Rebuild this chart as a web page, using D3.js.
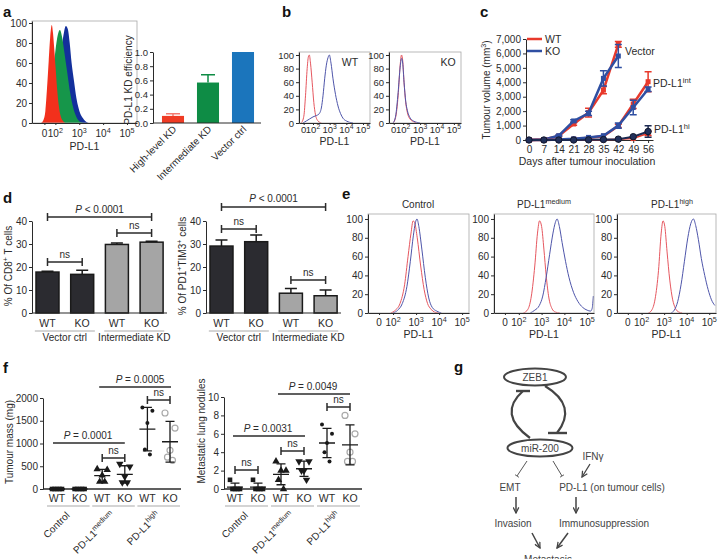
<!DOCTYPE html>
<html>
<head>
<meta charset="utf-8">
<script src="https://cdn.jsdelivr.net/npm/d3@7"></script>
<style>
  body { margin: 0; background: #fff; }
  svg { font-family: "Liberation Sans", Arial, Helvetica, sans-serif; }
</style>
</head>
<body>
<svg width="719" height="559"></svg>
<script>
// ---------- data ----------
// flow histograms: [log10 PD-L1, % of max]
const aRed   = [[1.40,0],[1.50,3],[1.58,12],[1.65,35],[1.72,62],[1.78,85],[1.85,98],[1.90,90],[1.95,75],[2.01,55],[2.07,35],[2.14,18],[2.22,7],[2.32,2],[2.42,0]];
const aGreen = [[1.45,0],[1.60,4],[1.75,20],[1.90,50],[2.00,72],[2.10,88],[2.19,93],[2.28,86],[2.38,70],[2.50,50],[2.62,30],[2.75,15],[2.90,5],[3.05,1],[3.20,0]];
const aBlue  = [[1.50,0],[1.70,3],[1.90,15],[2.05,35],[2.20,62],[2.32,85],[2.44,97],[2.52,94],[2.60,80],[2.68,60],[2.78,42],[2.88,25],[2.96,16],[3.05,9],[3.15,5],[3.25,2],[3.40,0]];

const bWTRed  = [[1.30,0],[1.45,10],[1.55,40],[1.65,80],[1.72,97],[1.78,100],[1.85,88],[1.95,60],[2.05,30],[2.15,12],[2.30,3],[2.50,0]];
const bWTBlue = [[1.40,0],[1.60,3],[1.80,6],[2.00,9],[2.20,11],[2.35,13],[2.50,22],[2.60,40],[2.70,65],[2.80,85],[2.90,96],[2.98,100],[3.08,88],[3.20,65],[3.35,42],[3.50,25],[3.65,14],[3.80,7],[4.00,3],[4.20,1],[4.40,0]];
const bKORed  = [[1.40,0],[1.55,8],[1.70,40],[1.82,85],[1.90,100],[1.97,92],[2.05,60],[2.15,30],[2.25,15],[2.40,6],[2.60,2],[2.80,0]];
const bKOBlue = [[1.40,0],[1.55,10],[1.70,45],[1.82,82],[1.90,95],[1.97,88],[2.05,60],[2.15,32],[2.25,18],[2.40,8],[2.60,3],[2.80,1],[3.00,0]];

const eCtrlRed  = [[1.90,0],[2.10,3],[2.30,10],[2.50,30],[2.65,60],[2.78,85],[2.87,98],[2.95,95],[3.05,80],[3.20,50],[3.35,25],[3.50,10],[3.65,4],[3.80,1],[4.00,0]];
const eCtrlBlue = [[2.00,0],[2.20,3],[2.40,10],[2.60,28],[2.75,55],[2.88,82],[2.97,96],[3.04,100],[3.12,92],[3.25,68],[3.40,38],[3.55,16],[3.70,6],[3.90,2],[4.10,0]];
const eMedRed   = [[2.20,0],[2.40,4],[2.55,18],[2.70,50],[2.82,85],[2.91,98],[3.00,92],[3.10,68],[3.20,40],[3.32,16],[3.45,5],[3.60,1],[3.80,0]];
const eMedBlue  = [[2.50,0],[2.70,3],[2.90,8],[3.05,18],[3.20,38],[3.35,62],[3.50,85],[3.60,96],[3.68,100],[3.78,92],[3.90,75],[4.05,55],[4.20,38],[4.40,22],[4.60,12],[4.80,6],[5.00,3],[5.15,2],[5.22,5],[5.27,18]];
const eHighRed  = [[2.30,0],[2.45,3],[2.60,15],[2.75,45],[2.87,85],[2.95,98],[3.03,92],[3.13,65],[3.25,35],[3.38,14],[3.50,5],[3.65,1],[3.80,0]];
const eHighBlue = [[3.30,0],[3.45,3],[3.60,12],[3.75,30],[3.90,55],[4.05,80],[4.18,95],[4.30,100],[4.40,93],[4.52,78],[4.65,58],[4.80,40],[4.95,25],[5.10,14],[5.25,8]];

const flowYTicks = [0, 20, 40, 60, 80, 100];
const flowDecades = [2, 3, 4, 5];

// panel a bars
const kdCats = ["High-level KD", "Intermediate KD", "Vector ctrl"];
const kdVals = [0.10, 0.57, 1.00];
const kdErr  = [0.03, 0.11, 0.00];

// panel c growth curves
const days     = [0, 7, 14, 21, 28, 35, 42, 49, 56];
const vecWT    = [0, 30, 280, 1110, 1900, 3460, 6630];
const vecWTErr = [0, 0, 40, 80, 300, 250, 200];
const vecKO    = [0, 30, 300, 1320, 1850, 4270, 5820];
const vecKOErr = [0, 0, 40, 80, 150, 530, 800];
const intWT    = [0, 0, 30, 60, 150, 260, 980, 2500, 4040];
const intWTErr = [0, 0, 0, 0, 0, 0, 120, 320, 690];
const intKO    = [0, 0, 40, 80, 180, 300, 1000, 2250, 3520];
const intKOErr = [0, 0, 0, 0, 0, 0, 180, 500, 150];
const hiWT     = [0, 0, 0, 0, 10, 20, 50, 100, 460];
const hiWTErr  = [0, 0, 0, 0, 0, 0, 0, 0, 150];
const hiKO     = [0, 0, 0, 0, 10, 30, 60, 230, 590];
const hiKOErr  = [0, 0, 0, 0, 0, 0, 0, 0, 400];

// panel d bars
const dLabels  = ["WT", "KO", "WT", "KO"];
const cd8Vals  = [17.8, 16.8, 29.8, 30.8];
const cd8Err   = [0.3, 1.8, 0.6, 0.4];
const timVals  = [29.1, 31.0, 8.6, 7.5];
const timErr   = [2.6, 2.9, 2.1, 2.5];

// panel f dot plots
const fKeys   = ["cWT", "cKO", "mWT", "mKO", "hWT", "hKO"];
const fLabels = ["WT", "KO", "WT", "KO", "WT", "KO"];
const massPts = {
  cWT: [0, 0, 0, 0, 0], cKO: [0, 0, 0, 0, 0],
  mWT: [440, 420, 300, 160, 160], mKO: [550, 490, 270, 145, 145],
  hWT: [1790, 1720, 1450, 870, 760], hKO: [1670, 1340, 850, 700, 630]
};
const nodPts = {
  cWT: [1, 0, 0, 0, 0], cKO: [1, 0, 0, 0, 0],
  mWT: [3, 2, 2, 1, 0], mKO: [3, 3, 2, 2, 1],
  hWT: [7, 6, 5, 4, 3], hKO: [8, 6, 4, 3, 3]
};

// ---------- drawing ----------
const svg = d3.select("svg");
const ink = "#2b2b2b";
const red = "#e8392b", blue = "#2f4fa2";
const flowRed = "#e6575f", flowBlue = "#4e55aa";

function txt(x, y, fs, anchor) {
  return svg.append("text").attr("x", x).attr("y", y).attr("font-size", fs)
    .attr("text-anchor", anchor || "middle").attr("fill", ink);
}
function rich(t, parts, fs) {
  let shift = 0;
  parts.forEach(p => {
    const s = t.append("tspan").text(p[0]);
    const want = p[1] === "sup" ? -fs * 0.42 : 0;
    if (want !== shift) { s.attr("dy", want - shift); shift = want; }
    if (p[1] === "sup") s.attr("font-size", fs * 0.72);
    if (p[1] === "i") s.attr("font-style", "italic");
  });
  return t;
}
function styleAxis(g, fs) {
  g.selectAll("path,line").attr("stroke", ink);
  g.selectAll("text").attr("font-size", fs || 10).attr("fill", ink).attr("font-family", null);
}
function letter(x, y, s) {
  svg.append("text").attr("x", x).attr("y", y).attr("font-size", 15)
    .attr("font-weight", "bold").attr("fill", "#111").text(s);
}
function bracket(x1, x2, y, ends) {
  let d = `M${x1},${y}H${x2}`;
  if (ends) d += `M${x1},${y - 4}V${y + 4}M${x2},${y - 4}V${y + 4}`;
  svg.append("path").attr("d", d).attr("stroke", ink).attr("stroke-width", 1.5).attr("fill", "none");
}

// flow cytometry panel
let clipN = 0;
function flow(c) {
  const fs = c.fs || 10;
  const g = svg.append("g").attr("transform", `translate(${c.left},${c.top})`);
  const x = d3.scaleLinear().domain(c.dom).range([0, c.w]);
  const y = d3.scaleLinear().domain([0, c.ymax]).range([c.h, 0]);
  const id = "clip" + (clipN++);
  g.append("clipPath").attr("id", id).append("rect").attr("width", c.w).attr("height", c.h);
  const plot = g.append("g").attr("clip-path", `url(#${id})`);
  c.curves.forEach(cv => {
    if (cv.fill) {
      plot.append("path").datum(cv.data).attr("fill", cv.color)
        .attr("d", d3.area().x(d => x(d[0])).y0(c.h).y1(d => y(d[1])).curve(d3.curveMonotoneX));
    } else {
      plot.append("path").datum(cv.data).attr("fill", "none").attr("stroke", cv.color).attr("stroke-width", 1)
        .attr("d", d3.line().x(d => x(d[0])).y(d => y(d[1])).curve(d3.curveMonotoneX));
    }
  });
  g.append("rect").attr("width", c.w).attr("height", c.h).attr("fill", "none")
    .attr("stroke", "#a8a8a8").attr("stroke-width", 0.8);
  g.append("g").call(d3.axisLeft(y).tickValues(flowYTicks).tickSize(3).tickPadding(2).tickSizeOuter(0))
    .call(a => styleAxis(a, fs));
  const tv = [c.zero, ...flowDecades];
  g.append("g").attr("transform", `translate(0,${c.h})`)
    .call(d3.axisBottom(x).tickValues(tv).tickSize(2).tickSizeOuter(0).tickFormat(""))
    .call(a => styleAxis(a));
  tv.forEach(v => {
    const t = g.append("text").attr("x", x(v)).attr("y", c.h + c.tickY).attr("font-size", fs)
      .attr("text-anchor", "middle").attr("fill", ink);
    if (v === c.zero) t.text("0"); else rich(t, [["10"], [String(v), "sup"]], fs);
  });
  g.append("text").attr("x", c.w / 2).attr("y", c.h + c.labY).attr("font-size", 10.5)
    .attr("text-anchor", "middle").attr("fill", ink).text("PD-L1");
  return g;
}

// ---- panel a
letter(3, 17, "a");
flow({ left: 32, top: 21, w: 105, h: 102, dom: [1.02, 5.42], zero: 1.54, ymax: 102, tickY: 14, labY: 27,
  curves: [{ data: aBlue, color: "#13309c", fill: true }, { data: aGreen, color: "#16964a", fill: true },
           { data: aRed, color: "#f2301c", fill: true }] });

{
  const y = d3.scaleLinear().domain([0, 1]).range([123, 52]);
  const x = d3.scaleBand().domain(kdCats).range([155.5, 260.5]).paddingInner(0.37).paddingOuter(0.185);
  const kdColors = ["#ef3b24", "#0e8c45", "#1b75bc"];
  svg.append("g").selectAll("rect").data(kdVals).join("rect")
    .attr("x", (d, i) => x(kdCats[i])).attr("y", d => y(d))
    .attr("width", x.bandwidth()).attr("height", d => y(0) - y(d))
    .attr("fill", (d, i) => kdColors[i]);
  kdVals.forEach((v, i) => {
    if (!kdErr[i]) return;
    const cx = x(kdCats[i]) + x.bandwidth() / 2;
    svg.append("path").attr("d", `M${cx},${y(v)}V${y(v + kdErr[i])}M${cx - 7},${y(v + kdErr[i])}H${cx + 7}`)
      .attr("stroke", i === 0 ? "#f47a70" : kdColors[i]).attr("stroke-width", 1.5).attr("fill", "none");
  });
  svg.append("g").attr("transform", "translate(153,0)")
    .call(d3.axisLeft(y).tickValues([0, 0.2, 0.4, 0.6, 0.8, 1.0]).tickFormat(d3.format(".1f")).tickSize(3).tickPadding(2).tickSizeOuter(0))
    .call(a => styleAxis(a, 9.5));
  svg.append("line").attr("x1", 153).attr("x2", 261).attr("y1", 123).attr("y2", 123).attr("stroke", ink);
  kdCats.forEach(cat => {
    const cx = x(cat) + x.bandwidth() / 2;
    txt(0, 0, 10, "end").attr("transform", `translate(${cx + 4},${130}) rotate(-45)`).text(cat);
  });
  txt(0, 0, 10).attr("transform", "translate(132,80) rotate(-90)").text("PD-L1 KD efficiency");
}

// ---- panel b
letter(282, 17, "b");
flow({ left: 299, top: 52, w: 71, h: 71, dom: [1.16, 5.42], zero: 1.44, ymax: 104.4, tickY: 10, labY: 22, fs: 9.5,
  curves: [{ data: bWTRed, color: flowRed }, { data: bWTBlue, color: flowBlue }] });
txt(350, 66, 10.5).text("WT");
flow({ left: 389, top: 52, w: 72, h: 71, dom: [1.16, 5.42], zero: 1.44, ymax: 104.4, tickY: 10, labY: 22, fs: 9.5,
  curves: [{ data: bKORed, color: flowRed }, { data: bKOBlue, color: flowBlue }] });
txt(448, 66, 10.5).text("KO");

// ---- panel c
letter(480, 17, "c");
{
  const x = d3.scaleLinear().domain([-1.4, 58.3]).range([526, 653]);
  const y = d3.scaleLinear().domain([0, 7000]).range([140, 39]);
  svg.append("g").attr("transform", "translate(526,0)")
    .call(d3.axisLeft(y).tickValues(d3.range(0, 7001, 1000)).tickFormat(d3.format(",")).tickSize(3).tickPadding(2).tickSizeOuter(0))
    .call(a => styleAxis(a, 10));
  svg.append("g").attr("transform", "translate(0,140)")
    .call(d3.axisBottom(x).tickValues(days).tickSize(3).tickPadding(3).tickSizeOuter(0))
    .call(a => styleAxis(a, 10));
  txt(0, 0, 10).attr("transform", "translate(490,90) rotate(-90)")
    .call(t => rich(t, [["Tumour volume (mm"], ["3", "sup"], [")"]], 10));
  txt(587, 165, 10.5).text("Days after tumour inoculation");

  const series = [
    { v: vecWT, e: vecWTErr, c: red, w: 2.5, m: "sq" },
    { v: vecKO, e: vecKOErr, c: blue, w: 2.5, m: "sq" },
    { v: intWT, e: intWTErr, c: red, w: 2.5, m: "sq" },
    { v: intKO, e: intKOErr, c: blue, w: 2.5, m: "sq" },
    { v: hiWT, e: hiWTErr, c: red, w: 1.6, m: "sq" },
    { v: hiKO, e: hiKOErr, c: "#1d2a52", w: 2, m: "ci" }
  ];
  const line = d3.line().x((d, i) => x(days[i])).y(d => y(d));
  series.forEach(s => {
    svg.append("path").datum(s.v).attr("fill", "none").attr("stroke", s.c).attr("stroke-width", s.w).attr("d", line);
    s.v.forEach((v, i) => {
      const px = x(days[i]);
      if (s.e[i]) {
        svg.append("path").attr("fill", "none").attr("stroke", s.c).attr("stroke-width", 1.5)
          .attr("d", `M${px},${y(v - s.e[i])}V${y(v + s.e[i])}M${px - 3.5},${y(v + s.e[i])}H${px + 3.5}M${px - 3.5},${y(v - s.e[i])}H${px + 3.5}`);
      }
      if (s.m === "sq") {
        svg.append("rect").attr("x", px - 2.5).attr("y", y(v) - 2.5).attr("width", 5).attr("height", 5).attr("fill", s.c);
      } else {
        svg.append("circle").attr("cx", px).attr("cy", y(v)).attr("r", 3.2).attr("fill", "#22305a")
          .attr("stroke", "#11182e").attr("stroke-width", 1);
      }
    });
  });
  svg.append("line").attr("x1", 527).attr("x2", 542).attr("y1", 39).attr("y2", 39).attr("stroke", red).attr("stroke-width", 2.5);
  svg.append("line").attr("x1", 527).attr("x2", 542).attr("y1", 51).attr("y2", 51).attr("stroke", blue).attr("stroke-width", 2.5);
  txt(545, 43, 10.5, "start").text("WT");
  txt(545, 55, 10.5, "start").text("KO");
  txt(625, 55, 10.5, "start").text("Vector");
  rich(txt(653, 87, 10.5, "start"), [["PD-L1"], ["int", "sup"]], 10.5);
  rich(txt(654, 133, 10.5, "start"), [["PD-L1"], ["hi", "sup"]], 10.5);
}

// ---- panel d
letter(3, 203, "d");
function barPanel(ax, vals, errs, ylab, groupLab) {
  const y = d3.scaleLinear().domain([0, 40]).range([313, 221]);
  const x = d3.scaleBand().domain(d3.range(4)).range([ax, ax + 135.1]).paddingInner(0.337).paddingOuter(0.115);
  const fills = ["#2b2b30", "#2b2b30", "#a5a5a5", "#a5a5a5"];
  vals.forEach((v, i) => {
    const cx = x(i) + x.bandwidth() / 2;
    svg.append("path").attr("d", `M${cx},${y(v)}V${y(v + errs[i])}M${cx - 6},${y(v + errs[i])}H${cx + 6}`)
      .attr("stroke", "#1a1a1a").attr("stroke-width", 1.5).attr("fill", "none");
    svg.append("rect").attr("x", x(i)).attr("y", y(v)).attr("width", x.bandwidth()).attr("height", y(0) - y(v))
      .attr("fill", fills[i]).attr("stroke", "#1a1a1a").attr("stroke-width", 1.5);
    txt(cx, 327, 10.5).text(dLabels[i]);
  });
  svg.append("g").attr("transform", `translate(${ax},0)`)
    .call(d3.axisLeft(y).tickValues([0, 10, 20, 30, 40]).tickSize(3).tickPadding(2).tickSizeOuter(0))
    .call(a => styleAxis(a, 10));
  svg.append("line").attr("x1", ax).attr("x2", ax + 135).attr("y1", 313).attr("y2", 313).attr("stroke", ink).attr("stroke-width", 1.2);
  [[0, 1], [2, 3]].forEach((pr, k) => {
    const m = (x(pr[0]) + x(pr[1]) + x.bandwidth()) / 2;
    svg.append("line").attr("x1", m - 30).attr("x2", m + 30).attr("y1", 331).attr("y2", 331).attr("stroke", "#aaa");
    txt(m, 341, 10).text(groupLab[k]);
  });
  txt(0, 0, 10).attr("transform", `translate(${ax - 20},266) rotate(-90)`).call(t => rich(t, ylab, 10));
  return i => x(i) + x.bandwidth() / 2;
}
{
  const cL = barPanel(32, cd8Vals, cd8Err, [["% Of CD8"], ["+", "sup"], [" T cells"]], ["Vector ctrl", "Intermediate KD"]);
  bracket(cL(0), cL(3), 217, true);
  rich(txt((cL(0) + cL(3)) / 2, 213, 10), [["P", "i"], [" < 0.0001"]], 10);
  bracket(cL(0), cL(1), 262, true); txt((cL(0) + cL(1)) / 2, 258, 10).text("ns");
  bracket(cL(2), cL(3), 233, true); txt((cL(2) + cL(3)) / 2, 229, 10).text("ns");

  const cR = barPanel(206, timVals, timErr, [["% Of PD1"], ["+", "sup"], ["TIM3"], ["+", "sup"], [" cells"]], ["Vector ctrl", "Intermediate KD"]);
  bracket(cR(0), cR(3), 207, true);
  rich(txt((cR(0) + cR(3)) / 2, 202, 10), [["P", "i"], [" < 0.0001"]], 10);
  bracket(cR(0), cR(1), 229, true); txt((cR(0) + cR(1)) / 2, 225, 10).text("ns");
  bracket(cR(2), cR(3), 280, true); txt((cR(2) + cR(3)) / 2, 276, 10).text("ns");
}

// ---- panel e
letter(342, 199, "e");
const eCfg = { top: 214, h: 99, dom: [0.91, 5.3], zero: 1.39, ymax: 105.3, tickY: 13, labY: 25 };
flow(Object.assign({ left: 368, w: 101, curves: [{ data: eCtrlRed, color: flowRed }, { data: eCtrlBlue, color: flowBlue }] }, eCfg));
flow(Object.assign({ left: 494, w: 100, curves: [{ data: eMedRed, color: flowRed }, { data: eMedBlue, color: flowBlue }] }, eCfg));
flow(Object.assign({ left: 617, w: 99, curves: [{ data: eHighRed, color: flowRed }, { data: eHighBlue, color: flowBlue }] }, eCfg));
txt(418, 208, 10).text("Control");
rich(txt(544, 208, 10), [["PD-L1"], ["medium", "sup"]], 10);
rich(txt(672, 208, 10), [["PD-L1"], ["high", "sup"]], 10);

// ---- panel f
letter(3, 373, "f");
const fGroupLabs = [[["Control"]], [["PD-L1"], ["medium", "sup"]], [["PD-L1"], ["high", "sup"]]];
function dotPanel(c) {
  const y = d3.scaleLinear().domain([0, c.ymax]).range([489, c.top]);
  const x = d3.scalePoint().domain(fKeys).range(c.xr);
  svg.append("g").attr("transform", `translate(${c.ax},0)`)
    .call(d3.axisLeft(y).tickValues(c.ticks).tickFormat(d3.format("d")).tickSize(3).tickPadding(2).tickSizeOuter(0))
    .call(a => styleAxis(a, 10));
  svg.append("line").attr("x1", c.ax).attr("x2", c.xend).attr("y1", 489).attr("y2", 489).attr("stroke", ink).attr("stroke-width", 1.3);
  const jit = [-5, 5, 0, -2.5, 2.5];
  fKeys.forEach((k, ki) => {
    const pts = c.pts[k];
    const cx = x(k);
    const m = d3.mean(pts), sd = d3.deviation(pts);
    pts.forEach((v, i) => {
      const px = cx + jit[i], py = y(v);
      if (ki < 2) svg.append("rect").attr("x", px - 2.3).attr("y", py - 2.3).attr("width", 4.6).attr("height", 4.6).attr("fill", "#1a1a1a");
      else if (ki === 2) svg.append("path").attr("d", d3.symbol(d3.symbolTriangle, 24)()).attr("transform", `translate(${px},${py})`).attr("fill", "#1a1a1a");
      else if (ki === 3) svg.append("path").attr("d", d3.symbol(d3.symbolTriangle, 24)()).attr("transform", `translate(${px},${py}) rotate(180)`).attr("fill", "#1a1a1a");
      else if (ki === 4) svg.append("circle").attr("cx", px).attr("cy", py).attr("r", 2).attr("fill", "#1a1a1a");
      else svg.append("circle").attr("cx", px).attr("cy", py).attr("r", 3).attr("fill", "#fff").attr("stroke", "#aaa").attr("stroke-width", 1.2);
    });
    const hi = y(m + sd), lo = y(Math.max(0, m - sd));
    svg.append("path").attr("fill", "none").attr("stroke", "#1a1a1a").attr("stroke-width", 1.3)
      .attr("d", `M${cx - 8},${y(m)}H${cx + 8}M${cx},${hi}V${lo}M${cx - 4.5},${hi}H${cx + 4.5}M${cx - 4.5},${lo}H${cx + 4.5}`);
    txt(cx, 502, 10.5).text(fLabels[ki]);
  });
  [0, 2, 4].forEach((i, g) => {
    const a = x(fKeys[i]), b = x(fKeys[i + 1]);
    svg.append("line").attr("x1", a - 10).attr("x2", b + 10).attr("y1", 506).attr("y2", 506).attr("stroke", "#aaa").attr("stroke-width", 1.2);
    rich(txt(0, 0, 10, "end").attr("transform", `translate(${(a + b) / 2 + 2},${516}) rotate(-45)`), fGroupLabs[g], 10);
  });
  return k => x(k);
}
{
  const xm = dotPanel({ ax: 43, xr: [57, 170], xend: 181, ymax: 2000, top: 398, ticks: [0, 500, 1000, 1500, 2000], pts: massPts });
  txt(0, 0, 10).attr("transform", "translate(13,442) rotate(-90)").text("Tumour mass (mg)");
  bracket(xm("mWT") - 3, xm("hKO") + 1, 387, false);
  rich(txt(140, 383, 10), [["P", "i"], [" = 0.0005"]], 10);
  bracket(xm("cWT") - 4, xm("mKO"), 443, false);
  rich(txt(88, 439, 10), [["P", "i"], [" = 0.0001"]], 10);
  bracket(xm("mWT"), xm("mKO"), 458, true); txt((xm("mWT") + xm("mKO")) / 2, 454, 10).text("ns");
  bracket(xm("hWT"), xm("hKO"), 400, true); txt((xm("hWT") + xm("hKO")) / 2, 396, 10).text("ns");

  const xn = dotPanel({ ax: 224, xr: [235, 350], xend: 362, ymax: 10, top: 397, ticks: [0, 2, 4, 6, 8, 10], pts: nodPts });
  txt(0, 0, 10).attr("transform", "translate(205,431) rotate(-90)").text("Metastatic lung nodules");
  bracket(xn("mWT") - 3, xn("hKO"), 394, false);
  rich(txt(313, 390, 10), [["P", "i"], [" = 0.0049"]], 10);
  bracket(xn("cWT") - 2, xn("mKO") + 1, 436, false);
  rich(txt(268, 432, 10), [["P", "i"], [" = 0.0031"]], 10);
  bracket(xn("cWT"), xn("cKO"), 470, true); txt((xn("cWT") + xn("cKO")) / 2, 466, 10).text("ns");
  bracket(xn("mWT"), xn("mKO"), 451, true); txt((xn("mWT") + xn("mKO")) / 2, 447, 10).text("ns");
  bracket(xn("hWT"), xn("hKO"), 407, true); txt((xn("hWT") + xn("hKO")) / 2, 403, 10).text("ns");
}

// ---- panel g (pathway diagram)
letter(454, 372, "g");
{
  const gc = "#444";
  const defs = svg.append("defs");
  defs.append("marker").attr("id", "arr").attr("viewBox", "0 0 10 10").attr("refX", 9).attr("refY", 5)
    .attr("markerWidth", 7).attr("markerHeight", 7).attr("orient", "auto").attr("markerUnits", "userSpaceOnUse")
    .append("path").attr("d", "M1,1L9,5L1,9").attr("fill", "none").attr("stroke", gc).attr("stroke-width", 1.8);
  defs.append("marker").attr("id", "bar").attr("viewBox", "0 0 10 10").attr("refX", 5).attr("refY", 5)
    .attr("markerWidth", 5).attr("markerHeight", 5).attr("orient", "auto").attr("markerUnits", "userSpaceOnUse")
    .append("path").attr("d", "M5,0V10").attr("stroke", gc).attr("stroke-width", 1.5);

  svg.append("ellipse").attr("cx", 535).attr("cy", 377).attr("rx", 31).attr("ry", 8.5).attr("fill", "#fff").attr("stroke", gc).attr("stroke-width", 2);
  txt(535, 381, 10).attr("fill", gc).text("ZEB1");
  svg.append("ellipse").attr("cx", 540).attr("cy", 448).attr("rx", 32.5).attr("ry", 8.5).attr("fill", "#fff").attr("stroke", gc).attr("stroke-width", 2);
  txt(540, 452, 10).attr("fill", gc).text("miR-200");

  svg.append("path").attr("d", "M530,438Q497,414 523,391").attr("fill", "none").attr("stroke", gc).attr("stroke-width", 2.2);
  svg.append("path").attr("d", "M516,391H530").attr("stroke", gc).attr("stroke-width", 2.4);
  svg.append("path").attr("d", "M545,386Q578,406 557,433").attr("fill", "none").attr("stroke", gc).attr("stroke-width", 2.2);
  svg.append("path").attr("d", "M548,433H567").attr("stroke", gc).attr("stroke-width", 2.4);

  svg.append("path").attr("d", "M527,461L517,476").attr("stroke", gc).attr("stroke-width", 0.9).attr("marker-end", "url(#bar)");
  svg.append("path").attr("d", "M553,461L562,476").attr("stroke", gc).attr("stroke-width", 0.9).attr("marker-end", "url(#bar)");
  txt(593, 460, 10).attr("fill", gc).text("IFNγ");
  svg.append("path").attr("d", "M590,464L582,477").attr("stroke", gc).attr("stroke-width", 1.3).attr("marker-end", "url(#arr)");

  txt(510, 491, 10).attr("fill", gc).text("EMT");
  txt(612, 491, 10).attr("fill", gc).text("PD-L1 (on tumour cells)");
  svg.append("path").attr("d", "M516,497V513").attr("stroke", gc).attr("stroke-width", 1.5).attr("marker-end", "url(#arr)");
  svg.append("path").attr("d", "M576,497V513").attr("stroke", gc).attr("stroke-width", 1.5).attr("marker-end", "url(#arr)");
  txt(513, 527, 10).attr("fill", gc).text("Invasion");
  txt(604, 527, 10).attr("fill", gc).text("Immunosuppression");
  svg.append("path").attr("d", "M532,533L540,548").attr("stroke", gc).attr("stroke-width", 1.5).attr("marker-end", "url(#arr)");
  svg.append("path").attr("d", "M568,533L557,548").attr("stroke", gc).attr("stroke-width", 1.5).attr("marker-end", "url(#arr)");
  txt(548, 563, 10).attr("fill", gc).text("Metastasis");
}
</script>
</body>
</html>
